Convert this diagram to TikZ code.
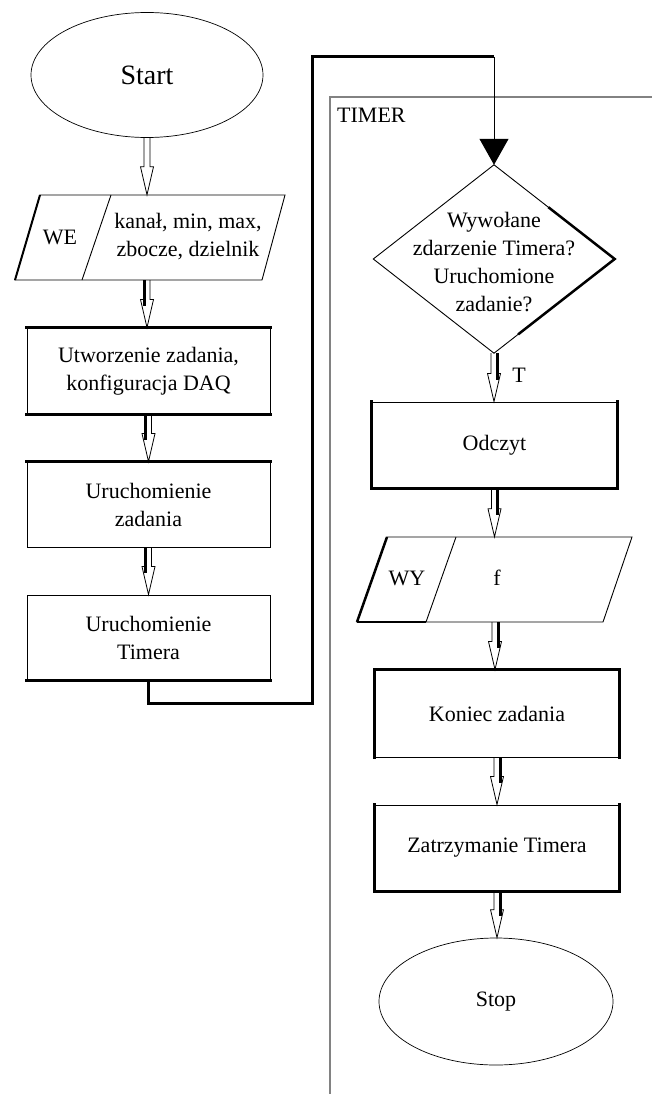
\documentclass[tikz,border=0pt]{standalone}
\usepackage{fontspec}
\setmainfont{Liberation Serif}
\usetikzlibrary{shapes.geometric,arrows.meta,calc}
\definecolor{framegray}{RGB}{130,130,130}
\tikzset{
  txt/.style={font=\fontsize{22}{28}\selectfont, align=center, inner sep=0pt},
  box/.style={draw, line width=0.9pt, minimum width=243pt, minimum height=86pt, txt},
  term/.style={draw, ellipse, line width=0.7pt, txt},
  thk/.style={line width=3pt, line cap=rect},
  thin/.style={line width=0.9pt},
  conn/.style={line width=3pt},
  frame/.style={line width=1.6pt, framegray},
  barrow/.style={line width=0.8pt, line join=miter,
    to path={let \p1=(\tikztostart), \p2=(\tikztotarget) in
      (\x1-3pt,\y1) -- (\x1-3pt,\y2+28pt) -- (\x1-6.5pt,\y2+28pt) -- (\x1,\y2)
      -- (\x1+6.5pt,\y2+28pt) -- (\x1+3pt,\y2+28pt) -- (\x1+3pt,\y1)}},
  bshadowL/.style={line width=3pt,
    to path={let \p1=(\tikztostart), \p2=(\tikztotarget) in
      (\x1-3pt,\y1) -- (\x1-3pt,\y2+22pt)}},
  bshadowR/.style={line width=3pt,
    to path={let \p1=(\tikztostart), \p2=(\tikztotarget) in
      (\x1+3pt,\y1) -- (\x1+3pt,\y2+22pt)}}
}
\begin{document}
\begin{tikzpicture}[x=1pt,y=-1pt]
\useasboundingbox (0,0) rectangle (652,1094);

% TIMER frame
\draw[frame] (652,97) -- (330,97) -- (330,1094);
\node[txt, anchor=base west] (timer) at (337,123) {TIMER};

% left column
\node[term, minimum width=232pt, minimum height=125pt, font=\fontsize{28}{32}\selectfont] (start) at (147,75) {Start};

\node[inner sep=0pt, minimum width=245pt, minimum height=85pt] (we) at (147,237.5) {};
\draw[thin] (40,195) -- (285,195) -- (262,280) -- (15,280) -- cycle;
\draw[line width=2pt] (40,195) -- (15,280);
\draw[thin] (111,195) -- (82,280);
\node[txt] (wel) at (60,237) {WE};
\node[txt] (wer) at (188,237) {kanał, min, max,\\zbocze, dzielnik};

\node[box] (b1) at (148.5,371) {Utworzenie zadania,\\konfiguracja DAQ};
\draw[thk] (b1.north west) -- (b1.north east);
\draw[thk] (b1.south west) -- (b1.south east);

\node[box, minimum height=85pt] (b2) at (148.5,504.5) {Uruchomienie\\zadania};
\draw[thk] (b2.north west) -- (b2.north east);

\node[box, minimum height=85pt] (b3) at (148.5,637.5) {Uruchomienie\\Timera};
\draw[thk] (b3.south west) -- (b3.south east);

\draw[barrow] (start.south) to (we.north);
\draw[barrow] (we.south) to (b1.north);
\draw[bshadowL] (we.south) to (b1.north);
\draw[barrow] (b1.south) to (b2.north);
\draw[bshadowL] (b1.south) to (b2.north);
\draw[barrow] (b2.south) to (b3.north);
\draw[bshadowL] (b2.south) to (b3.north);

% connector to timer
\coordinate (c1) at (312,57);
\coordinate (c2) at (494,57);
\node[inner sep=0pt, minimum width=241pt, minimum height=188pt] (dec) at (494,259) {};
\draw[conn] (b3.south) -- ++(0,23) -| (c1) -- (c2);
\draw[line width=1pt, -{Triangle[length=26pt,width=29pt]}] (c2) -- (dec.north);

% right column
\draw[thin] (dec.north) -- (dec.east) -- (dec.south) -- (dec.west) -- cycle;
\draw[line width=2.5pt] ($(dec.north)!0.45!(dec.east)$) -- (dec.east) -- ($(dec.east)!0.8!(dec.south)$);
\node[txt] (dect) at (494,262) {Wywołane\\zdarzenie Timera?\\Uruchomione\\zadanie?};

\node[box, minimum width=245pt] (odc) at (494.5,445) {Odczyt};
\draw[thk] (odc.north west) -- (odc.south west) -- (odc.south east) -- (odc.north east);

\node[inner sep=0pt, minimum width=245pt, minimum height=85pt] (wy) at (495,579.5) {};
\draw[thin] (387,537) -- (632,537) -- (603,622) -- (357,622) -- cycle;
\draw[line width=2.5pt] (387,537) -- (357,622);
\draw[line width=1.5pt] (357,622) -- (426,622);
\draw[thin] (456,537) -- (426,622);
\node[txt] (wyl) at (407,578) {WY};
\node[txt] (wyr) at (497,578) {f};

\node[box, minimum width=244pt, minimum height=87pt] (kon) at (497,713.5) {Koniec zadania};
\draw[thk] (kon.south west) -- (kon.north west) -- (kon.north east) -- (kon.south east);

\node[box, minimum width=244pt, minimum height=86pt] (zat) at (497,848) {Zatrzymanie Timera};
\draw[thk] (zat.north west) -- (zat.south west) -- (zat.south east) -- (zat.north east);

\node[term, minimum width=234pt, minimum height=127pt] (stop) at (496,1001.5) {Stop};

\node[txt] (tlab) at (519,375) {T};
\draw[barrow] (dec.south) to (odc.north);
\draw[bshadowR] (dec.south) to (odc.north);
\draw[barrow] (odc.south) to (wy.north);
\draw[bshadowR] (odc.south) to (wy.north);
\draw[barrow] (wy.south) to (kon.north);
\draw[bshadowR] (wy.south) to (kon.north);
\draw[barrow] (kon.south) to (zat.north);
\draw[bshadowR] (kon.south) to (zat.north);
\draw[barrow] (zat.south) to (stop.north);
\draw[bshadowR] (zat.south) to (stop.north);
\end{tikzpicture}
\end{document}
